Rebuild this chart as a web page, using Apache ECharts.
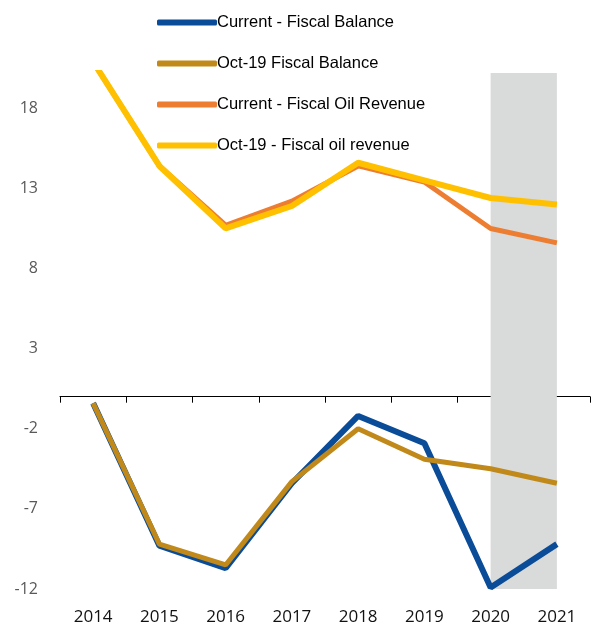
<!DOCTYPE html>
<html>
<head>
    <meta charset="utf-8">
    <title>Fiscal balance and oil revenue</title>
    <script src="https://cdn.jsdelivr.net/npm/echarts@6/dist/echarts.min.js"></script>
    <style>
        html, body { margin: 0; padding: 0; background: #fff; }
        #chart1 { width: 591px; height: 626px; }
    </style>
</head>
<body>
<div id="chart1"></div>
<script type="text/javascript">
    // 数据
    var years = ['2014', '2015', '2016', '2017', '2018', '2019', '2020', '2021'];
    var currentBalance = [-0.4, -9.3, -10.7, -5.4, -1.2, -2.9, -11.9, -9.2];
    var oct19Balance = [-0.4, -9.2, -10.5, -5.3, -2.0, -3.9, -4.5, -5.4];
    var currentOilRevenue = [20.9, 14.4, 10.7, 12.2, 14.4, 13.4, 10.5, 9.6];
    var oct19OilRevenue = [20.9, 14.4, 10.5, 11.9, 14.6, 13.5, 12.4, 12.0];
    var shadeRange = ['2020', '2021'];

    var myChart1 = echarts.init(document.getElementById('chart1'));
    var font = "'Liberation Sans', Arial, sans-serif";

    myChart1.setOption({
        animation: false,
        grid: { left: 60, right: 1, top: 73, bottom: 37 },
        legend: {
            orient: 'vertical',
            left: 152,
            top: 9,
            itemWidth: 60,
            itemHeight: 6,
            itemGap: 24,
            icon: 'roundRect',
            textStyle: { fontFamily: font, fontSize: 16.5, color: '#000', padding: [0, 0, 0, -5] },
            data: ['Current - Fiscal Balance', 'Oct-19 Fiscal Balance',
                'Current - Fiscal Oil Revenue', 'Oct-19 - Fiscal oil revenue']
        },
        xAxis: [
            {
                type: 'category',
                data: years,
                position: 'bottom',
                axisLine: { show: false },
                axisTick: { show: false },
                axisLabel: { fontFamily: 'Open Sans, sans-serif', fontSize: 17, color: '#111', margin: 20 }
            },
            {
                type: 'category',
                data: years,
                position: 'bottom',
                axisLine: { show: true, onZero: true, onZeroAxisIndex: 0, lineStyle: { color: '#000', width: 1 } },
                axisTick: { show: true, length: 6, lineStyle: { color: '#000' } },
                axisLabel: { show: false }
            }
        ],
        yAxis: {
            type: 'value',
            min: -12,
            max: 20.2,
            interval: 5,
            axisLine: { show: false },
            axisTick: { show: false },
            splitLine: { show: false },
            axisLabel: { showMaxLabel: false, fontFamily: 'Open Sans, sans-serif', fontSize: 16, color: '#595959', margin: 22 }
        },
        series: [
            {
                name: 'Current - Fiscal Balance',
                type: 'line',
                data: currentBalance,
                symbol: 'none',
                lineStyle: { width: 6, color: '#0A4C98' },
                itemStyle: { color: '#0A4C98' },
                markArea: {
                    silent: true,
                    itemStyle: { color: '#D9DADA' },
                    data: [[{ xAxis: shadeRange[0] }, { xAxis: shadeRange[1] }]]
                }
            },
            {
                name: 'Oct-19 Fiscal Balance',
                type: 'line',
                data: oct19Balance,
                symbol: 'none',
                lineStyle: { width: 5, color: '#C0891A' },
                itemStyle: { color: '#C0891A' }
            },
            {
                name: 'Current - Fiscal Oil Revenue',
                type: 'line',
                data: currentOilRevenue,
                symbol: 'none',
                lineStyle: { width: 5, color: '#ED7D31' },
                itemStyle: { color: '#ED7D31' }
            },
            {
                name: 'Oct-19 - Fiscal oil revenue',
                type: 'line',
                data: oct19OilRevenue,
                symbol: 'none',
                lineStyle: { width: 6, color: '#FFC000' },
                itemStyle: { color: '#FFC000' }
            }
        ]
    });
</script>
</body>
</html>
